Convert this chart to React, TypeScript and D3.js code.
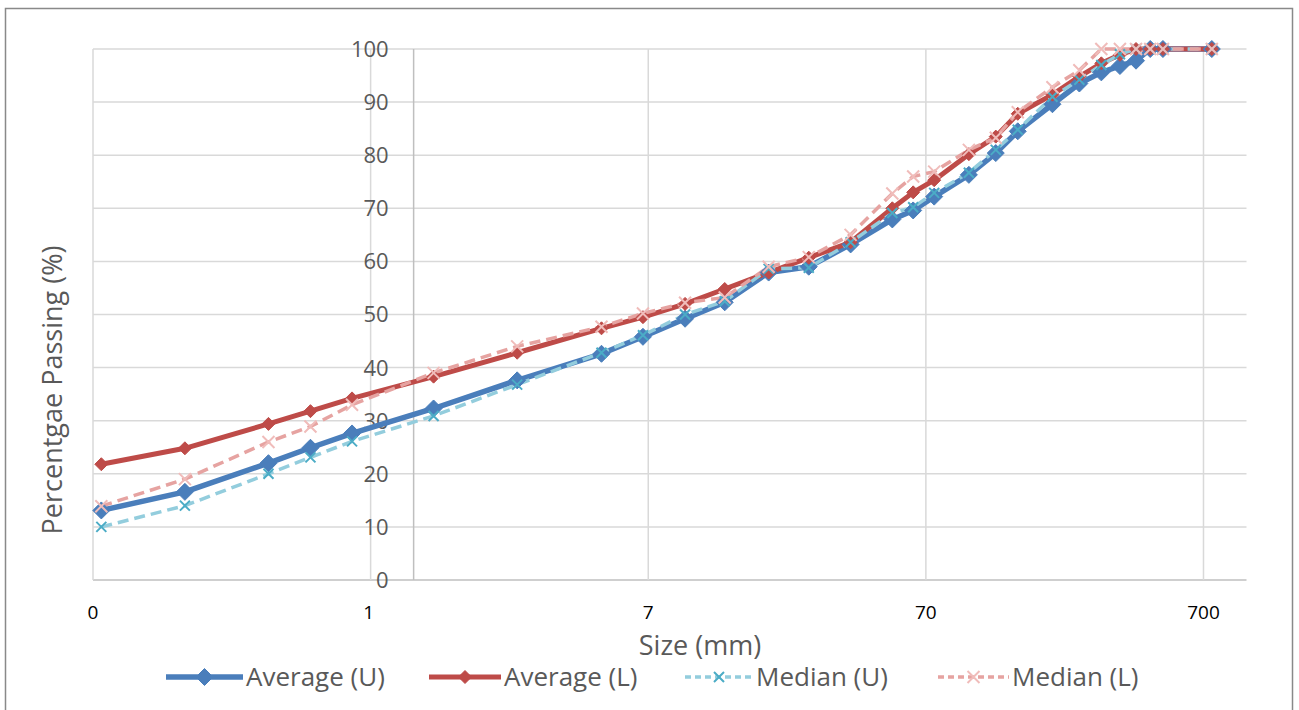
import React from "react";
import * as d3 from "d3";

const sizes = [0.075, 0.15, 0.3, 0.425, 0.6, 1.18, 2.36, 4.75, 6.7, 9.5, 13.2, 19, 26.5, 37.5, 53, 63, 75, 100, 125, 150, 200, 250, 300, 350, 400, 450, 500, 750];
const averageU = [13.1, 16.6, 22.0, 24.9, 27.6, 32.3, 37.6, 42.6, 45.8, 49.2, 52.3, 57.9, 59.0, 63.2, 67.9, 69.6, 72.2, 76.3, 80.4, 84.5, 89.6, 93.5, 95.6, 96.8, 97.8, 100, 100, 100];
const averageL = [21.8, 24.8, 29.4, 31.8, 34.2, 38.3, 42.8, 47.4, 49.5, 52.0, 54.8, 57.9, 60.7, 63.6, 70.0, 73.0, 75.3, 80.2, 83.5, 87.8, 91.4, 94.8, 97.3, 98.9, 100, 100, 100, 100];
const medianU = [10.0, 14.0, 20.0, 23.1, 26.1, 30.9, 36.8, 42.8, 46.1, 50.0, 52.5, 58.6, 58.8, 63.6, 69.1, 70.2, 72.9, 76.7, 81.0, 84.8, 91.0, 94.2, 97.0, 99.0, 100, 100, 100, 100];
const medianL = [13.9, 19.0, 26.0, 28.9, 33.0, 39.0, 44.0, 47.7, 50.2, 52.2, 53.2, 59.0, 60.8, 65.0, 72.8, 76.0, 76.9, 81.0, 83.3, 88.1, 92.8, 96.0, 100, 100, 100, 100, 100, 100];
const xTickValues = [0.07, 0.7, 7, 70, 700];
const xTickLabels = ["0", "1", "7", "70", "700"];
const yTickValues = [0, 10, 20, 30, 40, 50, 60, 70, 80, 90, 100];
const seriesNames = ["Average (U)", "Average (L)", "Median (U)", "Median (L)"];

const FONT = "'Open Sans', Lato, sans-serif";

export default function App() {
  const x = d3.scaleLog().domain([0.07, 1000]).range([93, 1246.5]);
  const y = d3.scaleLinear().domain([0, 100]).range([580, 49]);
  const line = d3
    .line<[number, number]>()
    .x((d) => x(d[0]))
    .y((d) => y(d[1]));
  const pts = (vals: number[]) => sizes.map((s, i) => [s, vals[i]] as [number, number]);

  const series = [
    { name: seriesNames[0], vals: averageU, color: "#4A7EBB", width: 5.5, dash: "", marker: "diamond", mColor: "#4A7EBB", mSize: 8.5 },
    { name: seriesNames[1], vals: averageL, color: "#BE4B48", width: 5, dash: "", marker: "diamond", mColor: "#BE4B48", mSize: 6.5 },
    { name: seriesNames[2], vals: medianU, color: "#93CDDD", width: 3.5, dash: "11,6", marker: "cross", mColor: "#4BACC6", mSize: 5 },
    { name: seriesNames[3], vals: medianL, color: "#E6A3A1", width: 3.5, dash: "11,6", marker: "cross", mColor: "#F0BCBA", mSize: 6 },
  ];

  const diamond = (r: number) => `M0,${-r}L${r},0L0,${r}L${-r},0Z`;
  const cross = (r: number) => `M${-r},${-r}L${r},${r}M${-r},${r}L${r},${-r}`;

  const drawMarker = (s: any, cx: number, cy: number, key: string) =>
    s.marker === "diamond" ? (
      <path key={key} d={diamond(s.mSize)} transform={`translate(${cx},${cy})`} fill={s.mColor} stroke={s.mColor} strokeWidth={1} />
    ) : (
      <path key={key} d={cross(s.mSize)} transform={`translate(${cx},${cy})`} fill="none" stroke={s.mColor} strokeWidth={2} />
    );

  const legendX = [166, 429, 685, 938];
  const legendLen = [77, 72, 68, 71];

  return (
    <svg width={1299} height={710} style={{ position: "absolute", left: 0, top: 0, background: "#fff" }} fontFamily={FONT}>
      <rect x={0} y={0} width={1299} height={710} fill="#fff" />
      <rect x={5.5} y={8.5} width={1287} height={720} fill="none" stroke="#898989" strokeWidth={1.5} />
      {yTickValues.map((v) => (
        <line key={"h" + v} x1={93} x2={1246.5} y1={y(v)} y2={y(v)} stroke={v === 0 ? "#BFBFBF" : "#D9D9D9"} strokeWidth={1.5} />
      ))}
      {xTickValues.map((v) => (
        <line key={"v" + v} x1={x(v)} x2={x(v)} y1={y(100)} y2={y(0)} stroke="#D9D9D9" strokeWidth={1.5} />
      ))}
      <line x1={x(1)} x2={x(1)} y1={y(100)} y2={y(0)} stroke="#BFBFBF" strokeWidth={1.5} />
      {yTickValues.map((v) => (
        <text key={"yt" + v} x={x(1) - 25} y={y(v)} dy="0.36em" textAnchor="end" fontSize={22} fill="#595959">
          {v}
        </text>
      ))}
      {xTickValues.map((v, i) => (
        <text key={"xt" + v} x={x(v) - (i === 1 ? 2 : 0)} y={612} dy="0.36em" textAnchor="middle" fontSize={19} fill="#000">
          {xTickLabels[i]}
        </text>
      ))}
      <text x={700} y={645} dy="0.36em" textAnchor="middle" fontSize={27} fill="#595959">
        Size (mm)
      </text>
      <text transform="translate(52,390) rotate(-90)" dy="0.36em" textAnchor="middle" fontSize={27} fill="#595959">
        Percentgae Passing (%)
      </text>
      {series.map((s) => (
        <path key={"l" + s.name} d={line(pts(s.vals)) || ""} fill="none" stroke={s.color} strokeWidth={s.width} strokeDasharray={s.dash} strokeLinejoin="round" />
      ))}
      {series.map((s) => (
        <g key={"m" + s.name}>{pts(s.vals).map((p, i) => drawMarker(s, x(p[0]), y(p[1]), s.name + i))}</g>
      ))}
      {series.map((s, i) => {
        const lx = legendX[i];
        const ll = legendLen[i];
        const ly = 677;
        return (
          <g key={"lg" + s.name}>
            <line x1={lx} x2={lx + ll} y1={ly} y2={ly} stroke={s.color} strokeWidth={s.width} strokeDasharray={s.dash ? "6,4" : ""} />
            {drawMarker(s, lx + ll / 2, ly, "lgm" + i)}
            <text x={lx + ll + 3} y={ly} dy="0.36em" fontSize={26} fill="#595959">
              {s.name}
            </text>
          </g>
        );
      })}
    </svg>
  );
}
